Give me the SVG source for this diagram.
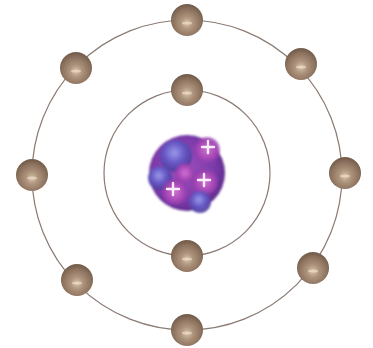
<svg xmlns="http://www.w3.org/2000/svg" width="373" height="348" viewBox="0 0 373 348">
  <defs>
    <radialGradient id="eg" cx="0.5" cy="0.6" r="0.55">
      <stop offset="0" stop-color="#d8c2ac"/>
      <stop offset="0.35" stop-color="#ae947c"/>
      <stop offset="0.8" stop-color="#8c725e"/>
      <stop offset="1" stop-color="#76604e"/>
    </radialGradient>
    <radialGradient id="ng" cx="0.45" cy="0.45" r="0.6">
      <stop offset="0" stop-color="#a050c0"/>
      <stop offset="0.7" stop-color="#7a3aa8"/>
      <stop offset="1" stop-color="#5a2a88"/>
    </radialGradient>
    <radialGradient id="bp" cx="0.45" cy="0.4" r="0.6">
      <stop offset="0" stop-color="#9a9ae8"/>
      <stop offset="0.5" stop-color="#6a5ac8"/>
      <stop offset="1" stop-color="#4a3a98" stop-opacity="0.9"/>
    </radialGradient>
    <radialGradient id="pp" cx="0.5" cy="0.5" r="0.55">
      <stop offset="0" stop-color="#d070d0"/>
      <stop offset="0.6" stop-color="#a848b8"/>
      <stop offset="1" stop-color="#8a3aa8" stop-opacity="0.6"/>
    </radialGradient>
    <filter id="soft"><feGaussianBlur stdDeviation="1.2"/></filter>
    <filter id="haze"><feGaussianBlur stdDeviation="0.6"/></filter>
    <g id="electron">
      <circle r="16" fill="url(#eg)"/>
      <ellipse cx="0" cy="3" rx="5" ry="1.6" fill="#f0dcc8" opacity="0.7" filter="url(#haze)"/>
    </g>
  </defs>
  <style>
    .orbit { fill: none; stroke: #8a7a72; stroke-width: 1.2; }
    .plus { stroke: #ffffff; stroke-width: 2.4; stroke-linecap: round; opacity: 0.9; }
  </style>
  <rect width="373" height="348" fill="#ffffff"/>

  <g id="orbits">
    <circle class="orbit" cx="187" cy="175" r="155"/>
    <circle class="orbit" cx="187" cy="173" r="83"/>
  </g>

  <g id="nucleus">
    <g filter="url(#soft)">
      <circle cx="187" cy="173" r="38" fill="url(#ng)"/>
      <circle cx="176" cy="156" r="16" fill="url(#bp)"/>
      <circle cx="207" cy="150" r="13" fill="url(#pp)"/>
      <circle cx="160" cy="178" r="12" fill="url(#bp)"/>
      <circle cx="205" cy="182" r="13" fill="url(#pp)"/>
      <circle cx="175" cy="192" r="13" fill="url(#pp)"/>
      <circle cx="200" cy="202" r="11" fill="url(#bp)"/>
      <circle cx="185" cy="173" r="10" fill="url(#pp)"/>
    </g>
    <path class="plus" d="M202 147h12M208 141v12"/>
    <path class="plus" d="M198 180h12M204 174v12"/>
    <path class="plus" d="M167 189h12M173 183v12"/>
  </g>

  <g id="inner-electrons" filter="url(#haze)">
    <use href="#electron" x="187" y="90"/>
    <use href="#electron" x="187" y="256"/>
  </g>

  <g id="outer-electrons" filter="url(#haze)">
    <use href="#electron" x="187" y="20"/>
    <use href="#electron" x="301" y="64"/>
    <use href="#electron" x="345" y="173"/>
    <use href="#electron" x="313" y="268"/>
    <use href="#electron" x="187" y="330"/>
    <use href="#electron" x="77" y="280"/>
    <use href="#electron" x="32" y="175"/>
    <use href="#electron" x="76" y="68"/>
  </g>
</svg>
